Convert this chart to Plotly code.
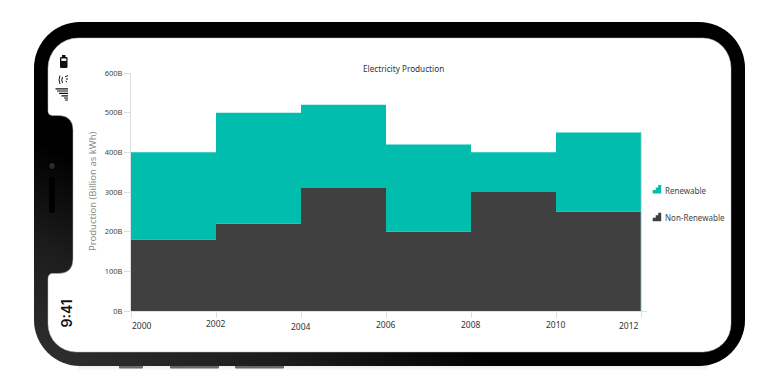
import base64
import plotly.graph_objects as go

# ---- data ----
years = [2000, 2002, 2004, 2006, 2008, 2010, 2012]
non_renewable = [180, 220, 310, 200, 300, 250, 250]
renewable = [220, 280, 210, 220, 100, 200, 200]
y_ticks = [0, 100, 200, 300, 400, 500, 600]
y_labels = ["0B", "100B", "200B", "300B", "400B", "500B", "600B"]
x_labels = ["2000", "2002", "2004", "2006", "2008", "2010", "2012"]
x_label_shift = [11, 0, 0, 0, 0, 0, -12]
x_label_y = [325, 323, 326, 324, 324, 324, 325]
title_text = "Electricity Production"
y_title = "Production (Billion as kWh)"

W, H = 780, 390
OFF = 8  # the page's default body margin
FONT = "Noto Sans"
TEAL = "#00bdae"
DARK = "#404041"


def px(v):
    return (v - OFF) / W


def py(v):
    return 1 - (v - OFF) / H


# phone frame artwork (decorative, below the chart)
frame_svg = f'''<svg xmlns="http://www.w3.org/2000/svg" width="{W}" height="{H}" viewBox="{OFF} {OFF} {W} {H}">
<defs>
<linearGradient id="g" gradientUnits="userSpaceOnUse" x1="34" y1="366" x2="123" y2="181">
<stop offset="0" stop-color="#303030"/><stop offset="0.55" stop-color="#1c1c1c"/><stop offset="1" stop-color="#000"/>
</linearGradient>
<linearGradient id="s" x1="0" y1="0" x2="0" y2="1"><stop offset="0" stop-color="#000" stop-opacity="0.07"/><stop offset="1" stop-color="#000" stop-opacity="0"/></linearGradient>
</defs>
<rect x="78" y="366" width="630" height="5" fill="url(#s)"/>
<rect x="119" y="364" width="24" height="4.5" rx="1" fill="#686868"/>
<rect x="170" y="364" width="49" height="4.5" rx="1" fill="#686868"/>
<rect x="235" y="364" width="49" height="4.5" rx="1" fill="#686868"/>
<rect x="34" y="22" width="711" height="344" rx="46" ry="46" fill="url(#g)"/>
<path fill="#fff" stroke="#bbb" stroke-width="0.5" d="M78 38 H703 A28 30 0 0 1 731 68 V324 A28 28 0 0 1 703 352 H76
A28 28 0 0 1 48 324 V279 Q48 274 52 273.5 H59 Q73 273 73 259 V130 Q73 116 59 115.5 H52 Q48 115 48 111 V68 A30 30 0 0 1 78 38 Z"/>
<circle cx="52" cy="166" r="3.6" fill="#2a2a2a" stroke="#000" stroke-width="1.4"/>
<rect x="49" y="177" width="6" height="36" rx="3" fill="#000"/>
<rect x="60" y="57" width="7.5" height="11" rx="1.2" fill="#111"/>
<rect x="62" y="55" width="3.5" height="2" fill="#111"/>
<rect x="61.3" y="58.5" width="5" height="2.4" fill="#fff"/>
<path d="M60 75.5 Q58 80 60 84 M62.5 77 Q61 80 62.5 83" fill="none" stroke="#111" stroke-width="1"/>
<path d="M65 77 L68 75.5 M66 79 L68 79 M65.5 81 L67 82" fill="none" stroke="#111" stroke-width="1"/>
<path d="M55.5 88.8 H68 M57 91 H68 M59 93.4 H68 M61.5 95.8 H68 M64 98 H68 M65 100 H68" fill="none" stroke="#111" stroke-width="1.2"/>
</svg>'''
frame_uri = "data:image/svg+xml;base64," + base64.b64encode(frame_svg.encode()).decode()

fig = go.Figure()
fig.add_trace(go.Scatter(
    x=years, y=non_renewable, name="Non-Renewable", stackgroup="one", mode="lines",
    line=dict(shape="hv", color=DARK, width=0), fillcolor=DARK, hoverinfo="x+y",
))
fig.add_trace(go.Scatter(
    x=years, y=renewable, name="Renewable", stackgroup="one", mode="lines",
    line=dict(shape="hv", color=TEAL, width=0), fillcolor=TEAL, hoverinfo="x+y",
))

annotations = []
for year, lab, shift, ly in zip(years, x_labels, x_label_shift, x_label_y):
    annotations.append(dict(
        x=year, xref="x", y=py(ly), yref="paper", text=lab, showarrow=False,
        xshift=shift, xanchor="center", yanchor="middle",
        font=dict(family=FONT, size=8.5, color="#333333"),
    ))
annotations += [
    dict(x=px(403), y=py(68), xref="paper", yref="paper", text=title_text, showarrow=False,
         xanchor="center", yanchor="middle", font=dict(family=FONT, size=8.2, color="#333333")),
    dict(x=px(92.5), y=py(191.5), xref="paper", yref="paper", text=y_title, showarrow=False,
         xanchor="center", yanchor="middle", textangle=-90,
         font=dict(family=FONT, size=9.5, color="#8a8a8a")),
    dict(x=px(663), y=py(190), xref="paper", yref="paper", text="Renewable", showarrow=False,
         xanchor="left", yanchor="middle", font=dict(family=FONT, size=8, color="#444444")),
    dict(x=px(663), y=py(217.5), xref="paper", yref="paper", text="Non-Renewable", showarrow=False,
         xanchor="left", yanchor="middle", font=dict(family=FONT, size=8, color="#444444")),
    dict(x=px(65.5), y=py(314), xref="paper", yref="paper", text="9:41", showarrow=False,
         xanchor="center", yanchor="middle", textangle=-90,
         font=dict(family="Inter", size=14, color="#111111", weight=600)),
]


def step_icon(x0, y0, color):
    pts = [(0, 8.5), (0, 5), (3, 5), (3, 2.5), (5.5, 2.5), (5.5, 0), (8.5, 0), (8.5, 8.5)]
    d = "M" + " L".join(f"{px(x0 + a):.5f},{py(y0 + b):.5f}" for a, b in pts) + " Z"
    return dict(type="path", xref="paper", yref="paper", path=d, fillcolor=color, line=dict(width=0))


shapes = [
    step_icon(652.7, 185, TEAL),
    step_icon(652.7, 212.7, DARK),
    dict(type="line", xref="paper", yref="paper", x0=px(131), x1=px(647), y0=py(311.5), y1=py(311.5),
         line=dict(color="#dbe2e5", width=1), layer="below"),
    dict(type="line", xref="paper", yref="paper", x0=px(641), x1=px(641), y0=py(132), y1=py(311),
         line=dict(color="#7fbfba", width=0.8)),
]

fig.update_layout(
    width=W, height=H, autosize=False,
    margin=dict(l=0, r=0, t=0, b=0),
    paper_bgcolor="rgba(255,255,255,1)", plot_bgcolor="rgba(0,0,0,0)",
    showlegend=False,
    font=dict(family=FONT),
    xaxis=dict(
        domain=[px(131), px(641)], range=[2000, 2012], tickvals=years, ticktext=[""] * len(years),
        ticks="outside", ticklen=6, tickcolor="#d8e0e3", tickwidth=1, showgrid=False, zeroline=False,
        showline=False, automargin=False,
    ),
    yaxis=dict(
        domain=[py(311), py(73)], range=[0, 600], tickvals=y_ticks, ticktext=y_labels,
        ticks="outside", ticklen=6, tickcolor="#d8e0e3", tickwidth=1, showgrid=False, zeroline=False,
        showline=True, linecolor="#d8e0e3", linewidth=1, automargin=False,
        tickfont=dict(family=FONT, size=7.5, color="#444444"),
    ),
    images=[dict(source=frame_uri, xref="paper", yref="paper", x=0, y=1, sizex=1, sizey=1,
                 sizing="stretch", xanchor="left", yanchor="top", layer="below")],
    annotations=annotations,
    shapes=shapes,
)
fig.write_html("out.html")
